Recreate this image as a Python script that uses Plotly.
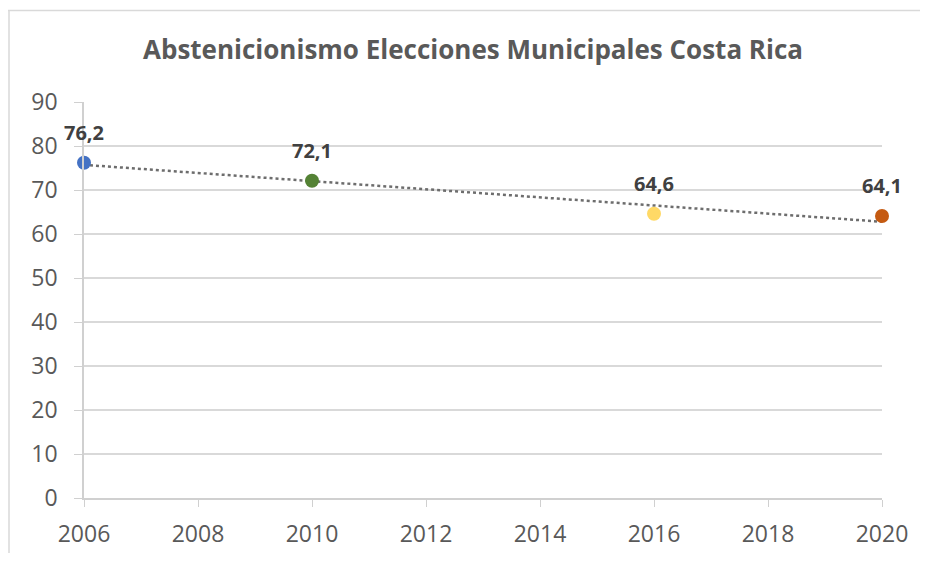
import numpy as np
import plotly.graph_objects as go

years = [2006, 2010, 2016, 2020]
values = [76.2, 72.1, 64.6, 64.1]
labels = ["76,2", "72,1", "64,6", "64,1"]
colors = ["#4472C4", "#548235", "#FFD966", "#C55A11"]
x_ticks = [2006, 2008, 2010, 2012, 2014, 2016, 2018, 2020]
y_ticks = [0, 10, 20, 30, 40, 50, 60, 70, 80, 90]
title = "Abstenicionismo Elecciones Municipales Costa Rica"

# linear trendline (least squares fit of the data, like Excel)
slope, intercept = np.polyfit(years, values, 1)
trend_x = [years[0], years[-1]]
trend_y = [slope * x + intercept for x in trend_x]

fig = go.Figure()
fig.add_trace(go.Scatter(
    x=trend_x, y=trend_y, mode="lines",
    line=dict(color="#6d6d6d", width=2.5, dash="dot"),
    hoverinfo="skip", showlegend=False, cliponaxis=False,
))
fig.add_trace(go.Scatter(
    x=years, y=values, mode="markers",
    marker=dict(color=colors, size=14, line=dict(width=0)),
    showlegend=False, cliponaxis=False,
))

for x, y, t in zip(years, values, labels):
    fig.add_annotation(
        x=x, y=y, text="<b>" + t + "</b>", showarrow=False,
        yshift=30, font=dict(family="Open Sans", size=20, color="#404040"),
    )

axis_font = dict(family="Open Sans", size=23, color="#595959")
W, H = 920, 553
L, R, T, B = 76, 46, 94, 56
pw, ph = W - L - R, H - T - B
fig.update_layout(
    width=W, height=H,
    margin=dict(l=L, r=R, t=T, b=B),
    paper_bgcolor="white", plot_bgcolor="white",
    title=dict(text="<b>" + title + "</b>", x=(473 - 8) / W, xanchor="center",
               y=1 - (50 - 8) / H, yanchor="middle",
               font=dict(family="Open Sans", size=26, color="#595959")),
    xaxis=dict(range=[2006, 2020], tickvals=x_ticks, ticktext=[str(v) for v in x_ticks],
               showgrid=False, zeroline=False, showline=True, linecolor="#d0d0d0",
               linewidth=1.5, ticks="outside", ticklen=7, tickcolor="#d0d0d0",
               tickfont=axis_font, ticklabelstandoff=8),
    yaxis=dict(range=[0, 90], tickvals=y_ticks, showgrid=True, gridcolor="#d9d9d9",
               gridwidth=1.5, zeroline=False, showline=True, linecolor="#d0d0d0",
               linewidth=1.5, ticks="outside", ticklen=8, tickcolor="#d0d0d0",
               tickfont=axis_font, ticklabelstandoff=12),
    shapes=[
        dict(type="line", xref="paper", yref="paper", x0=-L / pw, x1=(W - L) / pw,
             y0=1 + (T - 1) / ph, y1=1 + (T - 1) / ph,
             line=dict(color="#d9d9d9", width=1.5)),
        dict(type="line", xref="paper", yref="paper", x0=-L / pw + 1 / pw, x1=-L / pw + 1 / pw,
             y0=-B / ph, y1=1 + (T - 1) / ph,
             line=dict(color="#d9d9d9", width=1.5)),
    ],
)

fig.write_html("out.html")
